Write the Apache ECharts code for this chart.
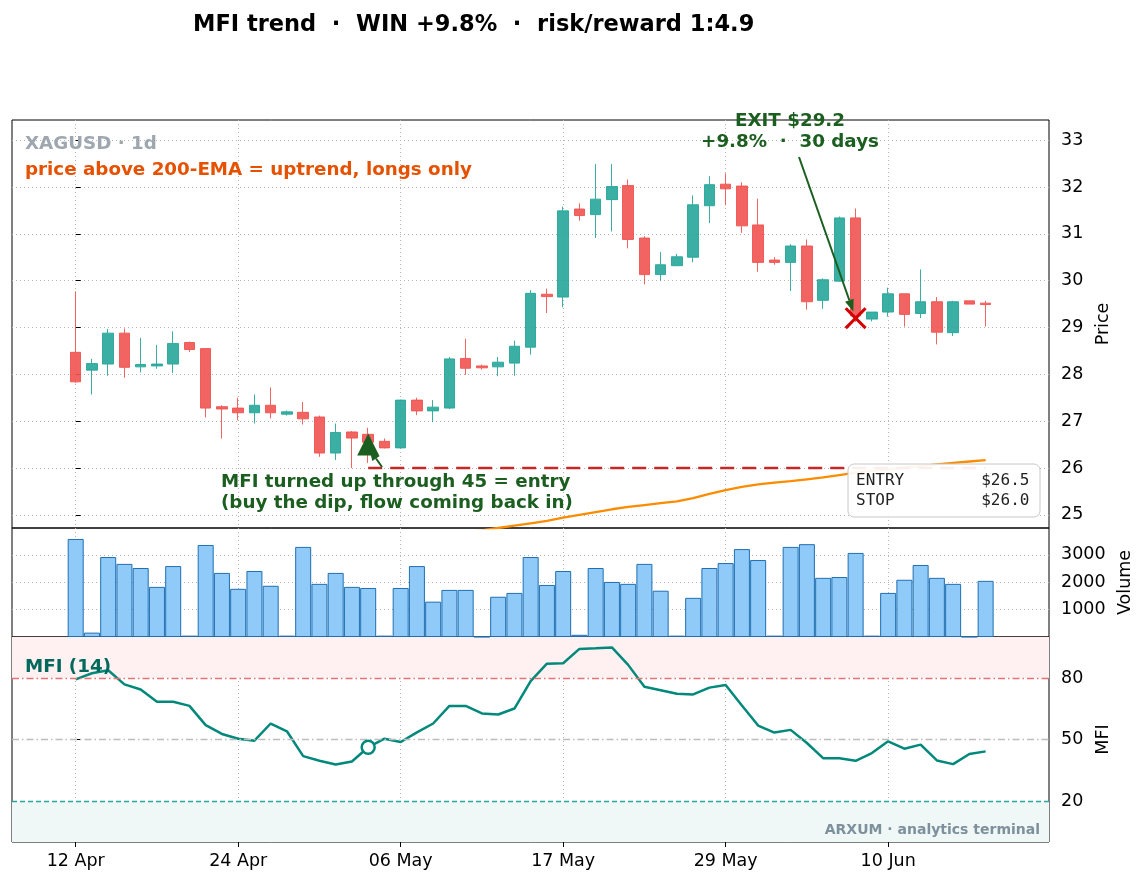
<!DOCTYPE html>
<html>
<head>
<meta charset="utf-8">
<script src="https://cdn.jsdelivr.net/npm/echarts@6/dist/echarts.min.js"></script>
<style>html,body{margin:0;padding:0;background:#fff}#main{width:1144px;height:884px}</style>
</head>
<body>
<div id="main"></div>
<script>
// daily bars (Sundays skipped)
const dates = ['12 Apr','13 Apr','15 Apr','16 Apr','17 Apr','18 Apr','19 Apr','20 Apr','22 Apr','23 Apr',
  '24 Apr','25 Apr','26 Apr','27 Apr','29 Apr','30 Apr','01 May','02 May','03 May','04 May',
  '06 May','07 May','08 May','09 May','10 May','11 May','13 May','14 May','15 May','16 May',
  '17 May','18 May','20 May','21 May','22 May','23 May','24 May','25 May','27 May','28 May',
  '29 May','30 May','31 May','01 Jun','03 Jun','04 Jun','05 Jun','06 Jun','07 Jun','08 Jun',
  '10 Jun','11 Jun','12 Jun','13 Jun','14 Jun','15 Jun','17 Jun'];

const opens  = [28.47,28.09,28.22,28.88,28.16,28.18,28.22,28.68,28.55,27.31,
  27.28,27.18,27.34,27.15,27.19,27.09,26.32,26.77,26.72,26.57,
  26.43,27.45,27.22,27.28,28.34,28.18,28.16,28.24,28.58,29.71,
  29.65,31.53,31.41,31.73,32.03,30.91,30.13,30.32,30.50,31.60,
  32.06,32.02,31.19,30.44,30.39,30.74,29.58,29.99,31.34,29.18,
  29.33,29.72,29.30,29.55,28.89,29.57,29.52];
const closes = [27.84,28.23,28.88,28.15,28.21,28.22,28.66,28.53,27.28,27.26,
  27.18,27.34,27.18,27.20,27.05,26.32,26.76,26.64,26.55,26.43,
  27.45,27.22,27.30,28.33,28.13,28.14,28.26,28.60,29.73,29.66,
  31.49,31.39,31.74,32.01,30.88,30.13,30.34,30.51,31.62,32.05,
  31.96,31.17,30.39,30.39,30.74,29.55,30.02,31.34,29.25,29.33,
  29.72,29.28,29.55,28.90,29.55,29.50,29.49];
const lows   = [27.82,27.57,27.97,27.93,28.04,28.12,28.03,28.48,27.08,26.63,
  27.02,26.95,27.06,27.12,26.93,26.24,26.17,26.00,26.11,26.42,
  26.42,27.13,26.98,27.26,27.99,28.10,27.96,27.97,28.42,29.31,
  29.43,31.28,30.91,31.05,30.69,29.92,30.00,30.31,30.39,31.23,
  31.61,31.02,30.19,30.34,29.78,29.38,29.40,29.98,29.12,29.13,
  29.23,29.02,29.20,28.64,28.82,29.50,29.02];
const highs  = [29.77,28.33,28.97,28.98,28.78,28.63,28.92,28.70,28.56,27.34,
  27.50,27.57,27.72,27.23,27.41,27.12,26.95,26.79,26.86,26.63,
  27.46,27.50,27.45,28.37,28.76,28.21,28.37,28.72,29.80,29.83,
  31.58,31.65,32.49,32.49,32.16,30.95,30.61,30.57,31.82,32.23,
  32.29,32.10,31.75,30.50,30.78,30.88,30.05,31.37,31.54,29.33,
  29.85,29.72,30.24,29.65,29.57,29.57,29.57];
const volumes = [3580,160,2920,2670,2520,1830,2590,50,3360,2340,
  1760,2410,1870,50,3290,1940,2340,1830,1790,50,
  1790,2590,1290,1720,1720,10,1470,1610,2920,1900,
  2410,80,2520,2010,1940,2670,1690,50,1430,2520,
  2700,3210,2810,50,3290,3390,2160,2190,3070,50,
  1610,2090,2630,2160,1940,10,2050];
const mfi = [79.3,82.3,83.8,76.9,74.4,68.4,68.4,66.4,57.0,52.7,
  50.4,49.4,57.8,54.0,41.9,39.6,37.8,39.3,46.2,50.4,
  48.8,53.5,57.8,66.4,66.4,62.7,62.2,65.1,78.5,87.0,
  87.2,94.2,94.5,94.9,86.4,75.7,74.0,72.3,72.0,75.3,
  76.6,66.6,56.8,53.4,54.7,48.3,40.9,40.9,39.6,43.4,
  49.1,45.5,47.5,39.8,38.0,42.9,44.2];
// 200-EMA, only the stretch that reaches the visible price range
const ema200 = [null,null,null,null,null,null,null,null,null,null,
  null,null,null,null,null,null,null,null,null,null,
  null,null,24.55,24.59,24.63,24.67,24.72,24.77,24.82,24.87,
  24.94,25.00,25.06,25.12,25.17,25.21,25.25,25.29,25.36,25.45,
  25.53,25.60,25.65,25.69,25.72,25.76,25.80,25.85,25.90,25.94,
  25.97,26.01,26.04,26.08,26.11,26.14,26.17];

const entryIdx = 18, entryPrice = 26.5, stopPrice = 26.0;
const exitIdx = 48, exitPrice = 29.2;
const dateTicks = [0, 10, 20, 30, 40, 50];
const mfiTicks = [20, 50, 80];

const FONT = 'DejaVu Sans';
const GREEN = '#1b5e20';
const lastIdx = dates.length - 1;

const dotted = {show: true, lineStyle: {color: '#b4b4b4', type: [1, 3], width: 1}};

function xAxisFor(gridIndex, showLabels) {
    return {
        type: 'value', gridIndex: gridIndex,
        min: -3.92, max: 59.9, minInterval: 10, maxInterval: 10,
        axisLine: {show: false},
        axisTick: {show: showLabels, length: 5, customValues: dateTicks, lineStyle: {color: '#000'}},
        axisLabel: {
            show: showLabels, fontSize: 17.5, color: '#000', fontFamily: FONT, margin: 10,
            customValues: dateTicks,
            formatter: v => (Number.isInteger(v) && dates[v]) ? dates[v] : ''
        },
        splitLine: dotted
    };
}

const axisName = {fontSize: 17.5, color: '#000', fontFamily: FONT};
const yLabel = {fontSize: 17.5, color: '#000', fontFamily: FONT, margin: 12};
const yTick = {show: true, length: 5, lineStyle: {color: '#000'}};

const option = {
    animation: false,
    backgroundColor: '#fff',
    title: {
        text: 'MFI trend  \u00b7  WIN +9.8%  \u00b7  risk/reward 1:4.9',
        left: 188, top: 9,
        textStyle: {fontSize: 22.5, fontWeight: 'bold', color: '#000', fontFamily: FONT}
    },
    grid: [
        {left: 12, right: 95, top: 120, height: 408, show: true, borderColor: '#000', borderWidth: 1, backgroundColor: 'transparent'},
        {left: 12, right: 95, top: 528, height: 109, show: true, borderColor: '#000', borderWidth: 1, backgroundColor: 'transparent'},
        {left: 12, right: 95, top: 637, height: 205, show: true, borderColor: '#000', borderWidth: 1, backgroundColor: 'transparent'}
    ],
    xAxis: [xAxisFor(0, false), xAxisFor(1, false), xAxisFor(2, true)],
    yAxis: [
        {
            type: 'value', gridIndex: 0, position: 'right',
            min: 24.72, max: 33.43, minInterval: 1, maxInterval: 1,
            name: 'Price', nameLocation: 'middle', nameGap: 42, nameTextStyle: axisName,
            axisLine: {show: false},
            axisTick: Object.assign({customValues: [25, 26, 27, 28, 29, 30, 31, 32, 33]}, yTick),
            axisLabel: Object.assign({formatter: v => Number.isInteger(v) ? String(v) : ''}, yLabel),
            splitLine: dotted
        },
        {
            type: 'value', gridIndex: 1, position: 'right',
            min: 0, max: 3980, interval: 1000,
            name: 'Volume', nameLocation: 'middle', nameGap: 64, nameTextStyle: axisName,
            axisLine: {show: false},
            axisTick: Object.assign({customValues: [1000, 2000, 3000]}, yTick),
            axisLabel: Object.assign({formatter: v => (v > 0 && v < 3980 && v % 1000 === 0) ? String(v) : ''}, yLabel),
            splitLine: dotted
        },
        {
            type: 'value', gridIndex: 2, position: 'right',
            min: 0, max: 100, interval: 10,
            name: 'MFI', nameLocation: 'middle', nameGap: 42, nameTextStyle: axisName,
            axisLine: {show: false},
            axisTick: Object.assign({customValues: mfiTicks}, yTick),
            axisLabel: Object.assign({customValues: mfiTicks, formatter: v => mfiTicks.includes(v) ? String(v) : ''}, yLabel),
            splitLine: {show: false}
        }
    ],
    series: [
        {
            type: 'candlestick', xAxisIndex: 0, yAxisIndex: 0,
            encode: {x: 0, y: [1, 2, 3, 4]},
            barWidth: 11,
            itemStyle: {
                color: '#26a69a', color0: '#ef5350',
                borderColor: '#26a69a', borderColor0: '#ef5350',
                borderWidth: 1, opacity: 0.9
            },
            data: dates.map((d, i) => [i, opens[i], closes[i], lows[i], highs[i]])
        },
        {
            type: 'line', xAxisIndex: 0, yAxisIndex: 0, symbol: 'none',
            lineStyle: {color: '#fb8c00', width: 2.3},
            data: ema200.map((v, i) => [i, v])
        },
        {
            type: 'line', xAxisIndex: 0, yAxisIndex: 0, symbol: 'none',
            lineStyle: {color: '#c62828', width: 2.5, type: [14, 8]},
            data: [[entryIdx, stopPrice], [lastIdx, stopPrice]]
        },
        {
            type: 'scatter', xAxisIndex: 0, yAxisIndex: 0, z: 5,
            symbol: 'triangle', symbolSize: 22,
            itemStyle: {color: GREEN, opacity: 1},
            data: [[entryIdx, entryPrice]]
        },
        {
            type: 'scatter', xAxisIndex: 0, yAxisIndex: 0, z: 5,
            symbol: 'path://M2,0 L10,8 L18,0 L20,2 L12,10 L20,18 L18,20 L10,12 L2,20 L0,18 L8,10 L0,2 Z',
            symbolSize: 22,
            itemStyle: {color: '#d50000', opacity: 1},
            data: [[exitIdx, exitPrice]]
        },
        {
            type: 'bar', xAxisIndex: 1, yAxisIndex: 1, barWidth: 16,
            itemStyle: {color: '#90caf9', borderColor: '#1f6fb2', borderWidth: 1},
            data: volumes.map((v, i) => [i, v])
        },
        {
            type: 'line', xAxisIndex: 2, yAxisIndex: 2, symbol: 'none', z: 3,
            lineStyle: {color: '#00897b', width: 2.5},
            data: mfi.map((v, i) => [i, v]),
            markArea: {
                silent: true,
                data: [
                    [{yAxis: 80, itemStyle: {color: '#fff1f1'}}, {yAxis: 100}],
                    [{yAxis: 0, itemStyle: {color: '#eff8f7'}}, {yAxis: 20}]
                ]
            },
            markLine: {
                silent: true, symbol: 'none', label: {show: false},
                data: [
                    {yAxis: 80, lineStyle: {color: '#e57373', width: 1.3, type: [7, 3, 1.5, 3]}},
                    {yAxis: 50, lineStyle: {color: '#bdbdbd', width: 1.3, type: [7, 3, 1.5, 3]}},
                    {yAxis: 20, lineStyle: {color: '#26a69a', width: 1.3, type: [5, 3]}}
                ]
            }
        },
        {
            type: 'scatter', xAxisIndex: 2, yAxisIndex: 2, z: 5,
            symbol: 'circle', symbolSize: 13,
            itemStyle: {color: '#fff', borderColor: '#00897b', borderWidth: 2.5, opacity: 1},
            data: [[entryIdx, mfi[entryIdx]]]
        }
    ]
};

function arrow(x1, y1, x2, y2, color) {
    const ang = Math.atan2(y2 - y1, x2 - x1), L = 12, W = 4.5;
    const bx = x2 - L * Math.cos(ang), by = y2 - L * Math.sin(ang);
    const px = -Math.sin(ang) * W, py = Math.cos(ang) * W;
    return [
        {type: 'line', z: 100, shape: {x1: x1, y1: y1, x2: bx, y2: by}, style: {stroke: color, lineWidth: 2}},
        {type: 'polygon', z: 100, shape: {points: [[x2, y2], [bx + px, by + py], [bx - px, by - py]]}, style: {fill: color}}
    ];
}

function txt(x, y, text, font, fill, align) {
    return {type: 'text', z: 100, x: x, y: y,
        style: {text: text, font: font, fill: fill, textAlign: align || 'left', textVerticalAlign: 'middle'}};
}

const chart = echarts.init(document.getElementById('main'));
chart.setOption(option);

const exitPx = chart.convertToPixel({xAxisIndex: 0, yAxisIndex: 0}, [exitIdx, exitPrice]);
const entryPx = chart.convertToPixel({xAxisIndex: 0, yAxisIndex: 0}, [entryIdx, entryPrice]);
const exFrom = [799, 157];
const exLen = Math.hypot(exitPx[0] - exFrom[0], exitPx[1] - exFrom[1]);
const exTip = [exitPx[0] - (exitPx[0] - exFrom[0]) / exLen * 7, exitPx[1] - (exitPx[1] - exFrom[1]) / exLen * 7];

const B18 = 'bold 18.3px "DejaVu Sans"';
const MONO = '16px "DejaVu Sans Mono"';
const graphic = [
    txt(25, 144, 'XAGUSD \u00b7 1d', 'bold 18.3px "DejaVu Sans"', '#9ea7b0'),
    txt(25, 170, 'price above 200-EMA = uptrend, longs only', B18, '#e65100'),
    txt(221, 482, 'MFI turned up through 45 = entry', B18, GREEN),
    txt(221, 503, '(buy the dip, flow coming back in)', B18, GREEN),
    txt(790, 121, 'EXIT $' + exitPrice.toFixed(1), B18, GREEN, 'center'),
    txt(790, 142, '+9.8%  \u00b7  30 days', B18, GREEN, 'center'),
    txt(25, 667, 'MFI (14)', B18, '#00695c'),
    txt(1040, 830, 'ARXUM \u00b7 analytics terminal', 'bold 14px "DejaVu Sans"', '#7d909c', 'right'),
    {type: 'rect', z: 99, shape: {x: 848, y: 464, width: 192, height: 53, r: 6},
        style: {fill: 'rgba(255,255,255,0.92)', stroke: '#c8c8c8', lineWidth: 1}},
    txt(856, 481, 'ENTRY' + ' '.repeat(8) + '$' + entryPrice.toFixed(1), MONO, '#222'),
    txt(856, 501, 'STOP' + ' '.repeat(9) + '$' + stopPrice.toFixed(1), MONO, '#222')
].concat(
    arrow(exFrom[0], exFrom[1], exTip[0], exTip[1], GREEN),
    arrow(382, 467, entryPx[0] + 1, entryPx[1] + 4, GREEN)
);
chart.setOption({graphic: graphic});
</script>
</body>
</html>
